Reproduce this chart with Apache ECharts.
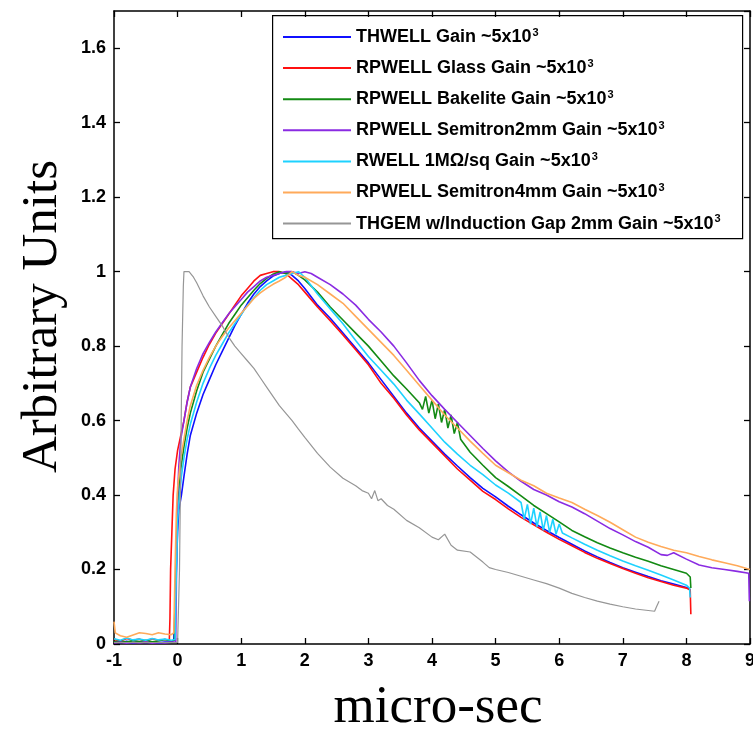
<!DOCTYPE html>
<html>
<head>
<meta charset="utf-8">
<script src="https://cdn.jsdelivr.net/npm/echarts@6/dist/echarts.min.js"></script>
<style>html,body{margin:0;padding:0;background:#fff;}#c{width:753px;height:731px;}</style>
</head>
<body>
<div id="c"></div>
<script>
// ---- Data (x in micro-sec, y in arbitrary units) ----
const xTicks = [-1, 0, 1, 2, 3, 4, 5, 6, 7, 8, 9];
const yTicks = [0, 0.2, 0.4, 0.6, 0.8, 1, 1.2, 1.4, 1.6];

const names = [
  'THWELL Gain ~5x10',
  'RPWELL Glass Gain ~5x10',
  'RPWELL Bakelite Gain ~5x10',
  'RPWELL Semitron2mm Gain ~5x10',
  'RWELL 1MΩ/sq Gain ~5x10',
  'RPWELL Semitron4mm Gain ~5x10',
  'THGEM w/Induction Gap 2mm Gain ~5x10'
];

const thwell = [[-1,0.006],[-0.9,0.004],[-0.8,0.007],[-0.7,0.003],[-0.6,0.006],[-0.5,0.004],[-0.4,0.006],[-0.3,0.003],[-0.2,0.005],[-0.1,0.006],[-0.06,0.01],[-0.04,0.1],[-0.02,0.2],[0,0.3],[0.02,0.36],[0.06,0.4],[0.1,0.45],[0.15,0.51],[0.2,0.56],[0.3,0.62],[0.4,0.67],[0.5,0.71],[0.6,0.75],[0.7,0.785],[0.8,0.82],[0.9,0.855],[1.0,0.885],[1.1,0.915],[1.2,0.94],[1.3,0.96],[1.4,0.975],[1.5,0.988],[1.6,0.995],[1.7,1.0],[1.8,0.99],[1.9,0.975],[2.0,0.955],[2.2,0.91],[2.4,0.875],[2.6,0.835],[2.8,0.795],[3.0,0.755],[3.2,0.71],[3.4,0.665],[3.6,0.62],[3.8,0.58],[4.0,0.545],[4.2,0.51],[4.4,0.478],[4.6,0.447],[4.8,0.418],[5.0,0.395],[5.2,0.37],[5.4,0.347],[5.6,0.325],[5.8,0.305],[6.0,0.286],[6.2,0.268],[6.4,0.25],[6.6,0.234],[6.8,0.219],[7.0,0.205],[7.2,0.193],[7.4,0.181],[7.6,0.17],[7.8,0.161],[8.0,0.152],[8.05,0.147],[8.06,0.14]];

const glass = [[-1,0.012],[-0.9,0.008],[-0.8,0.015],[-0.7,0.01],[-0.6,0.013],[-0.5,0.008],[-0.4,0.014],[-0.3,0.01],[-0.2,0.012],[-0.13,0.01],[-0.12,0.07],[-0.11,0.2],[-0.09,0.3],[-0.07,0.4],[-0.04,0.47],[0,0.52],[0.05,0.56],[0.1,0.6],[0.15,0.65],[0.2,0.69],[0.3,0.73],[0.4,0.77],[0.5,0.805],[0.6,0.835],[0.7,0.86],[0.8,0.885],[0.9,0.91],[1.0,0.935],[1.1,0.955],[1.2,0.975],[1.3,0.99],[1.4,0.995],[1.5,1.0],[1.6,1.0],[1.7,0.995],[1.8,0.98],[1.9,0.965],[2.0,0.945],[2.2,0.905],[2.4,0.868],[2.6,0.83],[2.8,0.79],[3.0,0.75],[3.2,0.7],[3.4,0.66],[3.6,0.615],[3.8,0.575],[4.0,0.54],[4.2,0.505],[4.4,0.47],[4.6,0.44],[4.8,0.41],[5.0,0.388],[5.2,0.363],[5.4,0.34],[5.6,0.32],[5.8,0.3],[6.0,0.281],[6.2,0.264],[6.4,0.246],[6.6,0.23],[6.8,0.216],[7.0,0.203],[7.2,0.19],[7.4,0.178],[7.6,0.168],[7.8,0.158],[8.0,0.15],[8.06,0.145],[8.07,0.08]];

const bakelite = [[-1,0.006],[-0.9,0.008],[-0.8,0.005],[-0.7,0.009],[-0.6,0.006],[-0.5,0.01],[-0.4,0.006],[-0.3,0.008],[-0.2,0.012],[-0.1,0.008],[-0.05,0.01],[-0.03,0.15],[-0.01,0.3],[0,0.37],[0.05,0.47],[0.1,0.53],[0.15,0.58],[0.2,0.62],[0.3,0.68],[0.4,0.73],[0.5,0.765],[0.6,0.8],[0.7,0.83],[0.8,0.86],[0.9,0.885],[1.0,0.91],[1.1,0.93],[1.2,0.95],[1.3,0.968],[1.4,0.982],[1.5,0.993],[1.6,1.0],[1.7,0.995],[1.8,1.0],[1.9,0.99],[2.0,0.978],[2.2,0.945],[2.4,0.905],[2.6,0.87],[2.8,0.835],[3.0,0.8],[3.2,0.76],[3.4,0.72],[3.6,0.685],[3.8,0.648],[3.85,0.63],[3.9,0.665],[3.95,0.62],[4.0,0.655],[4.05,0.605],[4.1,0.645],[4.15,0.595],[4.2,0.63],[4.25,0.58],[4.3,0.615],[4.35,0.565],[4.4,0.595],[4.45,0.55],[4.6,0.515],[4.8,0.48],[5.0,0.447],[5.2,0.423],[5.4,0.398],[5.6,0.372],[5.8,0.35],[6.0,0.328],[6.2,0.305],[6.4,0.288],[6.6,0.272],[6.8,0.258],[7.0,0.245],[7.2,0.233],[7.4,0.222],[7.6,0.21],[7.8,0.2],[8.0,0.19],[8.06,0.18],[8.07,0.15]];

const semitron2 = [[-1,0.003],[-0.9,0.005],[-0.8,0.002],[-0.7,0.004],[-0.6,0.003],[-0.5,0.005],[-0.4,0.002],[-0.3,0.004],[-0.2,0.003],[-0.1,0.005],[-0.03,0.005],[-0.02,0.15],[-0.01,0.3],[0,0.4],[0.02,0.48],[0.05,0.55],[0.1,0.6],[0.15,0.65],[0.2,0.69],[0.3,0.74],[0.4,0.78],[0.5,0.81],[0.6,0.838],[0.7,0.862],[0.8,0.886],[0.9,0.906],[1.0,0.925],[1.1,0.945],[1.2,0.96],[1.3,0.975],[1.4,0.985],[1.5,0.99],[1.6,0.995],[1.7,1.0],[1.8,1.0],[1.9,0.995],[2.0,1.0],[2.1,0.995],[2.2,0.985],[2.4,0.965],[2.6,0.94],[2.8,0.91],[3.0,0.872],[3.2,0.838],[3.4,0.8],[3.6,0.755],[3.8,0.708],[4.0,0.667],[4.2,0.63],[4.4,0.595],[4.6,0.56],[4.8,0.525],[5.0,0.492],[5.2,0.462],[5.4,0.437],[5.6,0.415],[5.8,0.4],[6.0,0.382],[6.2,0.368],[6.4,0.35],[6.6,0.33],[6.8,0.31],[7.0,0.293],[7.2,0.275],[7.4,0.26],[7.6,0.24],[7.7,0.238],[7.8,0.245],[8.0,0.228],[8.2,0.212],[8.4,0.205],[8.6,0.2],[8.8,0.195],[8.98,0.19],[8.99,0.115]];

const rwell = [[-1,0.014],[-0.9,0.01],[-0.8,0.016],[-0.7,0.011],[-0.6,0.013],[-0.5,0.01],[-0.4,0.015],[-0.3,0.011],[-0.2,0.013],[-0.1,0.01],[-0.04,0.012],[-0.03,0.12],[-0.01,0.25],[0,0.33],[0.03,0.4],[0.06,0.45],[0.1,0.5],[0.15,0.55],[0.2,0.59],[0.3,0.65],[0.4,0.7],[0.5,0.74],[0.6,0.775],[0.7,0.805],[0.8,0.835],[0.9,0.86],[1.0,0.885],[1.1,0.91],[1.2,0.93],[1.3,0.95],[1.4,0.965],[1.5,0.975],[1.6,0.985],[1.7,0.99],[1.8,0.995],[1.9,1.0],[2.0,0.985],[2.2,0.94],[2.4,0.9],[2.6,0.86],[2.8,0.815],[3.0,0.772],[3.2,0.735],[3.4,0.698],[3.6,0.655],[3.8,0.618],[4.0,0.58],[4.2,0.542],[4.4,0.51],[4.6,0.48],[4.8,0.455],[5.0,0.427],[5.2,0.405],[5.4,0.38],[5.45,0.335],[5.5,0.375],[5.55,0.322],[5.6,0.365],[5.65,0.315],[5.7,0.355],[5.75,0.305],[5.8,0.345],[5.85,0.3],[5.9,0.335],[5.95,0.295],[6.0,0.322],[6.05,0.298],[6.2,0.285],[6.4,0.268],[6.6,0.252],[6.8,0.237],[7.0,0.223],[7.2,0.21],[7.4,0.198],[7.6,0.185],[7.8,0.172],[8.0,0.158],[8.05,0.15],[8.06,0.125]];

const semitron4 = [[-1,0.06],[-0.98,0.03],[-0.9,0.022],[-0.8,0.018],[-0.7,0.024],[-0.6,0.03],[-0.5,0.028],[-0.4,0.025],[-0.3,0.03],[-0.2,0.027],[-0.1,0.025],[-0.06,0.03],[-0.04,0.2],[-0.02,0.35],[0,0.42],[0.05,0.5],[0.1,0.55],[0.15,0.6],[0.2,0.64],[0.3,0.695],[0.4,0.735],[0.5,0.77],[0.6,0.8],[0.7,0.825],[0.8,0.848],[0.9,0.868],[1.0,0.888],[1.1,0.908],[1.2,0.928],[1.3,0.943],[1.4,0.955],[1.5,0.966],[1.6,0.975],[1.7,0.985],[1.8,1.0],[1.9,0.99],[2.0,0.985],[2.2,0.965],[2.4,0.94],[2.6,0.915],[2.8,0.88],[3.0,0.845],[3.2,0.81],[3.4,0.775],[3.6,0.735],[3.8,0.695],[4.0,0.655],[4.2,0.615],[4.4,0.58],[4.6,0.545],[4.8,0.512],[5.0,0.48],[5.2,0.46],[5.4,0.44],[5.6,0.425],[5.8,0.405],[6.0,0.392],[6.2,0.38],[6.4,0.362],[6.6,0.345],[6.8,0.327],[7.0,0.307],[7.2,0.287],[7.4,0.273],[7.6,0.262],[7.8,0.252],[8.0,0.245],[8.2,0.235],[8.4,0.226],[8.6,0.218],[8.8,0.21],[9.0,0.2]];

const thgem = [[-1,0.004],[-0.5,0.004],[0,0.004],[0.02,0.005],[0.03,0.2],[0.05,0.5],[0.07,0.8],[0.09,0.96],[0.1,1.0],[0.18,1.0],[0.25,0.985],[0.3,0.97],[0.4,0.935],[0.5,0.905],[0.6,0.88],[0.7,0.855],[0.8,0.825],[0.9,0.8],[1.0,0.78],[1.1,0.76],[1.2,0.74],[1.3,0.715],[1.4,0.69],[1.5,0.665],[1.6,0.64],[1.7,0.62],[1.8,0.6],[1.9,0.577],[2.0,0.555],[2.2,0.512],[2.4,0.475],[2.6,0.445],[2.8,0.425],[2.9,0.412],[3.0,0.405],[3.05,0.39],[3.1,0.412],[3.15,0.385],[3.2,0.39],[3.3,0.372],[3.4,0.362],[3.6,0.332],[3.8,0.312],[4.0,0.287],[4.1,0.28],[4.2,0.295],[4.3,0.265],[4.4,0.252],[4.6,0.247],[4.8,0.22],[4.9,0.205],[5.0,0.2],[5.2,0.192],[5.4,0.182],[5.6,0.172],[5.8,0.162],[6.0,0.15],[6.2,0.136],[6.4,0.125],[6.6,0.115],[6.8,0.107],[7.0,0.1],[7.2,0.094],[7.4,0.09],[7.5,0.088],[7.53,0.1],[7.57,0.115]];

const seriesData = [thwell, glass, bakelite, semitron2, rwell, semitron4, thgem];
const colors = ['#1010ff', '#ff1010', '#138a13', '#8a2be2', '#1ed2ff', '#ffaa5a', '#969696'];
const widths = [1.6, 1.6, 1.6, 1.6, 1.6, 1.6, 1.2];

// ---- Chart ----
const chart = echarts.init(document.getElementById('c'), null, {renderer: 'canvas'});
const sansBold = {fontFamily: 'Liberation Sans', fontWeight: 'bold', color: '#000'};
const axisLine = {show: true, onZero: false, lineStyle: {color: '#000', width: 1.5}};
const tick = {show: true, inside: true, length: 6, lineStyle: {color: '#000', width: 1.3}};

const option = {
  animation: false,
  backgroundColor: '#fff',
  grid: {left: 114, right: 3, top: 11, bottom: 87, containLabel: false, outerBoundsMode: 'none'},
  xAxis: [
    {type: 'value', min: xTicks[0], max: xTicks[xTicks.length - 1], interval: 1,
     axisLine: axisLine, axisTick: tick, splitLine: {show: false},
     axisLabel: Object.assign({fontSize: 18, margin: 8}, sansBold),
     name: 'micro-sec', nameLocation: 'middle', nameGap: 38,
     nameTextStyle: {fontFamily: 'Liberation Serif', fontSize: 53, color: '#000', padding: [0, 0, 0, 12]}},
    {type: 'value', position: 'top', min: xTicks[0], max: xTicks[xTicks.length - 1], interval: 1,
     axisLine: axisLine, axisTick: tick, splitLine: {show: false}, axisLabel: {show: false}}
  ],
  yAxis: [
    {type: 'value', min: yTicks[0], max: 1.7, interval: 0.2,
     axisLine: axisLine, axisTick: tick, splitLine: {show: false},
     axisLabel: Object.assign({fontSize: 18, margin: 8, showMaxLabel: false}, sansBold),
     name: 'Arbitrary Units', nameLocation: 'middle', nameGap: 46,
     nameTextStyle: {fontFamily: 'Liberation Serif', fontSize: 51, color: '#000', padding: [0, 0, 0, 22]}},
    {type: 'value', position: 'right', min: yTicks[0], max: 1.7, interval: 0.2,
     axisLine: axisLine, axisTick: tick, splitLine: {show: false}, axisLabel: {show: false}}
  ],
  legend: {
    orient: 'vertical', left: 278, top: 22,
    icon: 'rect', itemWidth: 68, itemHeight: 2, itemGap: 11.1,
    data: names,
    formatter: function (n) { return '{m|' + n + '}{s|3}'; },
    textStyle: {
      rich: {
        m: {fontFamily: 'Liberation Sans', fontWeight: 'bold', fontSize: 18, color: '#000', lineHeight: 20},
        s: {fontFamily: 'Liberation Sans', fontWeight: 'bold', fontSize: 11, color: '#000', lineHeight: 20, verticalAlign: 'top', padding: [0, 0, 9, 1]}
      }
    }
  },
  graphic: [{
    type: 'rect', left: 272, top: 15, z: 5, silent: true,
    shape: {width: 470, height: 223},
    style: {fill: 'rgba(0,0,0,0)', stroke: '#000', lineWidth: 1.2}
  }],
  series: seriesData.map(function (d, i) {
    return {
      name: names[i], type: 'line', data: d, xAxisIndex: 0, yAxisIndex: 0,
      symbol: 'none', showSymbol: false,
      lineStyle: {color: colors[i], width: widths[i]},
      itemStyle: {color: colors[i]},
      z: 2 + i
    };
  })
};
chart.setOption(option);
</script>
</body>
</html>
